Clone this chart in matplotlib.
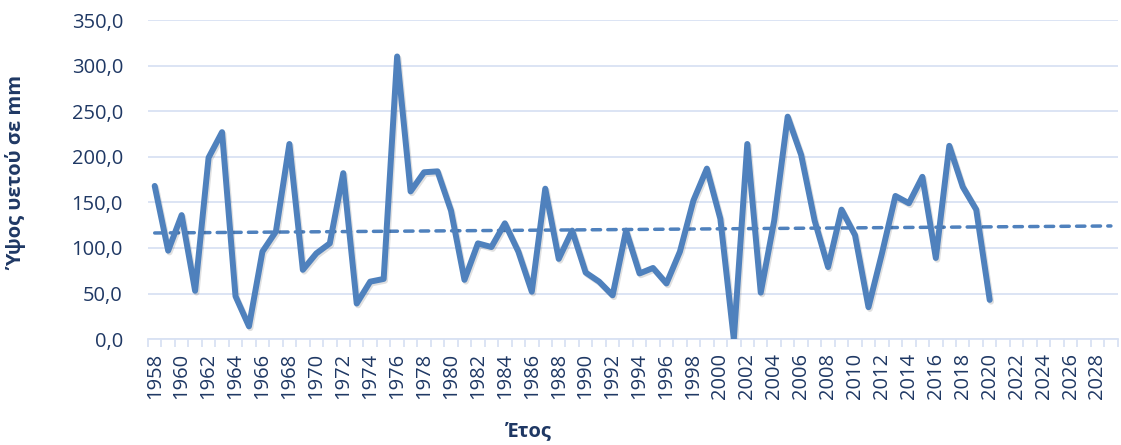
import matplotlib.pyplot as plt
import matplotlib.patheffects as pe
import numpy as np
from matplotlib.ticker import FuncFormatter

# years shown on the category axis (data only up to 2020)
years = list(range(1958, 2030))
data_years = list(range(1958, 2021))
rain = [168, 97, 136, 53, 199, 227, 47, 14, 96, 118,
        214, 76, 94, 105, 182, 39, 63, 66, 310, 162,
        183, 184, 141, 65, 105, 101, 127, 96, 52, 165,
        88, 119, 73, 63, 48, 119, 72, 78, 61, 96,
        152, 187, 132, 0, 214, 51, 130, 244, 202, 130,
        79, 142, 114, 35, 94, 157, 149, 178, 89, 212,
        167, 142, 43]

text_col = '#1F3864'
grid_col = '#D9E2F3'
line_col = '#4F81BD'

plt.rcParams['font.family'] = ['Open Sans', 'DejaVu Sans']

fig = plt.figure(figsize=(11.21, 4.45), dpi=100)
ax = fig.add_axes([0.132, 0.238, 0.865, 0.717])

x = np.arange(len(data_years))
ax.plot(x, rain, color=line_col, lw=4.3, solid_joinstyle='round', solid_capstyle='round',
        zorder=3,
        path_effects=[pe.SimpleLineShadow(offset=(1.0, -1.3), alpha=0.12), pe.Normal()])

# linear trend line extended to the end of the axis
coef = np.polyfit(x, rain, 1)
xt = np.arange(len(years))
ax.plot(xt, np.polyval(coef, xt), color=line_col, lw=2.5, dashes=(2.4, 2.1),
        dash_capstyle='round', zorder=2)

ax.set_xlim(-0.5, len(years) - 0.5)
ax.set_ylim(0, 350)
ax.set_yticks(np.arange(0, 351, 50))
ax.yaxis.set_major_formatter(FuncFormatter(lambda v, p: f'{v:.1f}'.replace('.', ',')))
ax.grid(axis='y', color=grid_col, lw=1.3)
ax.set_axisbelow(True)

ax.set_xticks(xt[::2])
ax.set_xticklabels([str(y) for y in years[::2]], rotation=90)
ax.set_xticks(np.arange(len(years) + 1) - 0.5, minor=True)
ax.tick_params(axis='x', which='major', length=0, pad=10, labelsize=14.5, labelcolor=text_col)
ax.tick_params(axis='x', which='minor', length=6, width=1.3, color=grid_col)
ax.tick_params(axis='y', length=0, pad=18, labelsize=14.5, labelcolor=text_col)

for s in ['top', 'right', 'left']:
    ax.spines[s].set_visible(False)
ax.spines['bottom'].set_color(grid_col)
ax.spines['bottom'].set_linewidth(1.3)

ax.set_ylabel('Ύψος υετού σε mm', fontsize=14.5, fontweight='bold', color=text_col, va='center')
ax.yaxis.set_label_coords(-0.135, 0.52)
ax.set_xlabel('Έτος', fontsize=14.5, fontweight='bold', color=text_col, va='center')
ax.xaxis.set_label_coords(0.393, -0.29)

plt.savefig('out.png', dpi=100)
